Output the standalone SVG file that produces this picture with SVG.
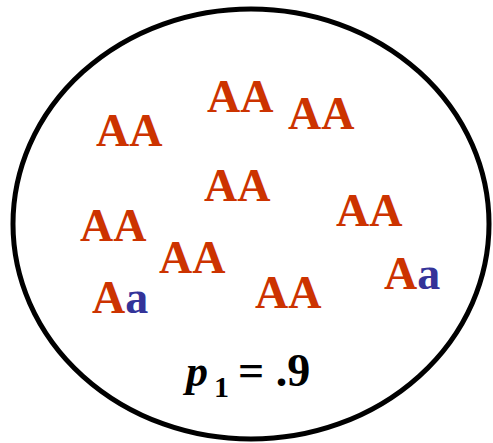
<svg xmlns="http://www.w3.org/2000/svg" width="493" height="443" viewBox="0 0 493 443">
<rect width="493" height="443" fill="#fff"/>
<ellipse cx="251" cy="224" rx="238" ry="215" fill="none" stroke="#000" stroke-width="5"/>
<g id="n1"><text font-family="Liberation Serif, serif" font-weight="bold" font-size="46" fill="#CC3300" x="96" y="146">AA</text></g>
<g id="n2"><text font-family="Liberation Serif, serif" font-weight="bold" font-size="46" fill="#CC3300" x="207" y="112">AA</text></g>
<g id="n3"><text font-family="Liberation Serif, serif" font-weight="bold" font-size="46" fill="#CC3300" x="288" y="129">AA</text></g>
<g id="n4"><text font-family="Liberation Serif, serif" font-weight="bold" font-size="46" fill="#CC3300" x="204" y="201">AA</text></g>
<g id="n5"><text font-family="Liberation Serif, serif" font-weight="bold" font-size="46" fill="#CC3300" x="336" y="226">AA</text></g>
<g id="n6"><text font-family="Liberation Serif, serif" font-weight="bold" font-size="46" fill="#CC3300" x="80" y="241">AA</text></g>
<g id="n7"><text font-family="Liberation Serif, serif" font-weight="bold" font-size="46" fill="#CC3300" x="159" y="273">AA</text></g>
<g id="n8"><text font-family="Liberation Serif, serif" font-weight="bold" font-size="46" fill="#CC3300" x="92" y="313">A<tspan fill="#333399">a</tspan></text></g>
<g id="n9"><text font-family="Liberation Serif, serif" font-weight="bold" font-size="46" fill="#CC3300" x="255" y="308">AA</text></g>
<g id="n10"><text font-family="Liberation Serif, serif" font-weight="bold" font-size="46" fill="#CC3300" x="384" y="289">A<tspan fill="#333399">a</tspan></text></g>
<g id="label"><text font-family="Liberation Serif, serif" font-weight="bold" font-size="44" fill="#000" x="186" y="386"><tspan font-style="italic">p</tspan><tspan x="214" y="397" font-size="30">1</tspan><tspan x="238" y="386" font-size="46">= .9</tspan></text></g>
</svg>
